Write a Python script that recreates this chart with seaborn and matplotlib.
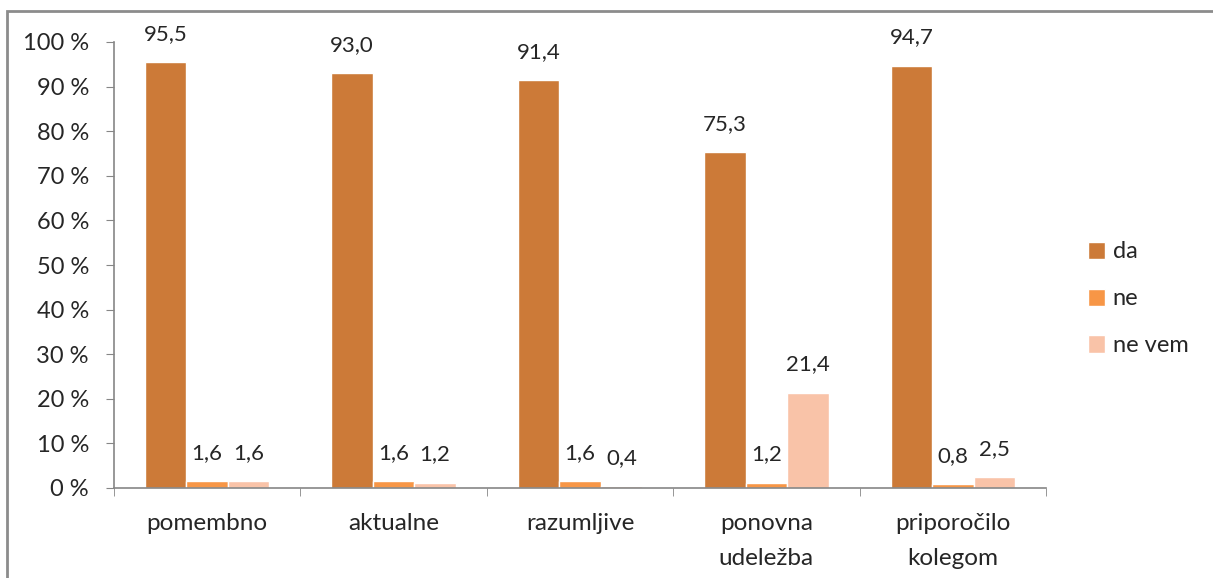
import pandas as pd
import matplotlib.pyplot as plt
import seaborn as sns
from matplotlib.patches import Rectangle

# data
categories = ["pomembno", "aktualne", "razumljive", "ponovna\nudeležba", "priporočilo\nkolegom"]
series = ["da", "ne", "ne vem"]
da = [95.5, 93.0, 91.4, 75.3, 94.7]
ne = [1.6, 1.6, 1.6, 1.2, 0.8]
ne_vem = [1.6, 1.2, 0.4, 21.4, 2.5]
colors = ["#CC7A38", "#F79646", "#F9C3A8"]
y_ticks = [0, 10, 20, 30, 40, 50, 60, 70, 80, 90, 100]

df = pd.DataFrame({
    "kategorija": categories * 3,
    "odgovor": [s for s in series for _ in categories],
    "delez": da + ne + ne_vem,
})

sns.set_style("white")
plt.rcParams['font.family'] = ['Lato', 'DejaVu Sans']

fig = plt.figure(figsize=(12.13, 5.78), dpi=100)
ax = fig.add_axes([114 / 1213, 90 / 578, (1046 - 114) / 1213, (487 - 41) / 578])

sns.barplot(data=df, x="kategorija", y="delez", hue="odgovor",
            palette=colors, width=0.667, gap=0, ax=ax, saturation=1,
            errorbar=None)

for cont in ax.containers:
    ax.bar_label(cont, labels=[f"{v:.1f}".replace(".", ",") for v in cont.datavalues],
                 padding=13, fontsize=16)

ax.set_ylim(0, 100)
ax.set_xlim(-0.5, len(categories) - 0.5)
ax.set_yticks(y_ticks)
ax.set_yticklabels([f"{t} %" for t in y_ticks], fontsize=17)
ax.set_xticks(range(len(categories)))
ax.set_xticklabels(categories, fontsize=17.5, linespacing=1.8)
ax.tick_params(axis="x", length=0, pad=18)
ax.tick_params(axis="y", length=6, color="#868686", left=True, pad=12)
# category boundary ticks on the x axis
ax.set_xticks([i - 0.5 for i in range(len(categories) + 1)], minor=True)
ax.tick_params(axis="x", which="minor", length=6, color="#868686", bottom=True)
ax.set_xlabel("")
ax.set_ylabel("")

for side in ["top", "right"]:
    ax.spines[side].set_visible(False)
for side in ["left", "bottom"]:
    ax.spines[side].set_color("#868686")
    ax.spines[side].set_linewidth(1.2)

leg = ax.legend(loc="center left", bbox_to_anchor=(1.022, 0.424), frameon=False,
                fontsize=17, handlelength=0.75, handleheight=0.75,
                labelspacing=1.1, handletextpad=0.3)

# outer chart frame (clipped at right and bottom like the reference)
fig.patches.append(Rectangle((7 / 1213, -0.1), 1.2, 1 - 11 / 578 + 0.1,
                             transform=fig.transFigure, fill=False,
                             edgecolor="#8C8C8C", linewidth=2))

plt.savefig("out.png", dpi=100)
